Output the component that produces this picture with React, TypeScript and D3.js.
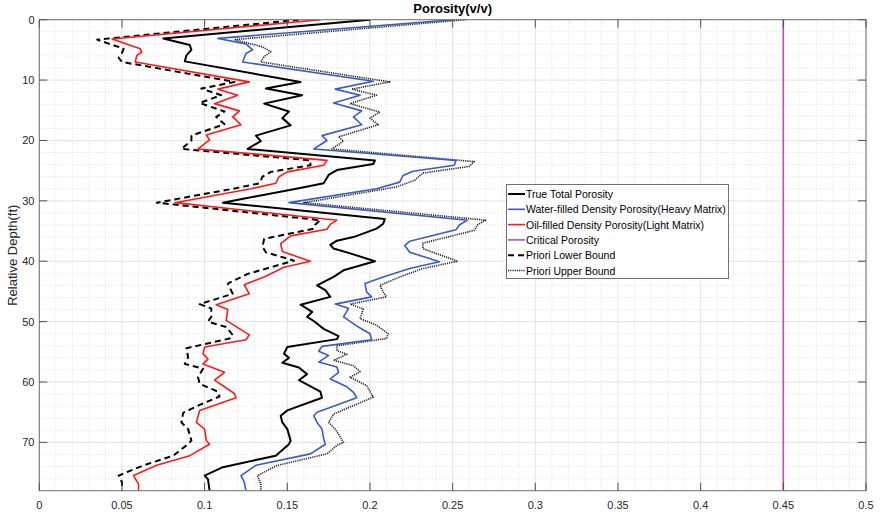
import * as d3 from "d3"

// [depth (ft), porosity (v/v)]
const trueTotal: [number, number][] = [
  [0, 0.2], [3.1, 0.075], [4.2, 0.091], [5.0, 0.092], [5.9, 0.089], [6.9, 0.088],
  [10.3, 0.158], [11.4, 0.137], [12.5, 0.159], [13.9, 0.136], [15.2, 0.151], [16.3, 0.147],
  [17.5, 0.152], [19.2, 0.131], [20.1, 0.134], [21.4, 0.126], [23.3, 0.203], [23.9, 0.202],
  [24.9, 0.18], [25.7, 0.175], [27.1, 0.172], [27.9, 0.157], [30.3, 0.111], [33.0, 0.209],
  [33.8, 0.208], [34.6, 0.204], [36.0, 0.19], [36.6, 0.18], [37.3, 0.176], [37.9, 0.178],
  [38.7, 0.188], [40.0, 0.203], [41.5, 0.184], [42.6, 0.178], [44.0, 0.168], [44.8, 0.173],
  [45.9, 0.176], [47.2, 0.158], [48.4, 0.165], [49.2, 0.162], [49.9, 0.166], [51.2, 0.172],
  [52.4, 0.181], [52.9, 0.18], [54.2, 0.15], [55.3, 0.148], [56.0, 0.151], [56.8, 0.147],
  [57.6, 0.157], [58.7, 0.162], [59.7, 0.157], [61.6, 0.17], [62.6, 0.171], [64.7, 0.15],
  [65.6, 0.146], [66.7, 0.147], [67.8, 0.15], [69.7, 0.152], [70.3, 0.151], [72.2, 0.143],
  [74.1, 0.111], [75.5, 0.1], [76.1, 0.102], [78, 0.103],
]

const waterFilled: [number, number][] = [
  [0, 0.251], [3.1, 0.108], [4.0, 0.125], [5.0, 0.129], [5.6, 0.125], [7.0, 0.123],
  [10.2, 0.202], [11.5, 0.179], [12.5, 0.194], [13.8, 0.178], [15.1, 0.195], [16.1, 0.19],
  [17.4, 0.195], [19.2, 0.171], [20.0, 0.174], [21.4, 0.166], [23.3, 0.252], [24.1, 0.251],
  [25.1, 0.226], [25.8, 0.22], [26.9, 0.218], [28.0, 0.204], [30.3, 0.151], [33.2, 0.259],
  [34.0, 0.254], [34.8, 0.252], [36.7, 0.224], [37.4, 0.221], [38.5, 0.224], [40.1, 0.242],
  [41.2, 0.224], [42.6, 0.208], [43.7, 0.197], [45.1, 0.198], [45.9, 0.201], [47.1, 0.179],
  [47.8, 0.187], [49.2, 0.184], [50.9, 0.193], [52.0, 0.2], [53.0, 0.201], [54.1, 0.171],
  [54.9, 0.169], [55.6, 0.175], [56.7, 0.169], [57.5, 0.18], [58.4, 0.181], [59.5, 0.176],
  [60.8, 0.186], [61.7, 0.19], [62.6, 0.192], [65.0, 0.168], [65.6, 0.166], [66.7, 0.168],
  [67.8, 0.171], [69.4, 0.172], [70.3, 0.173], [71.9, 0.164], [73.8, 0.131], [75.5, 0.122],
  [76.6, 0.124], [78, 0.125],
]

const oilFilled: [number, number][] = [
  [0, 0.17], [3.2, 0.044], [4.8, 0.061], [5.4, 0.062], [5.9, 0.059], [7.0, 0.058],
  [10.3, 0.127], [11.5, 0.108], [12.5, 0.12], [13.9, 0.106], [15.1, 0.121], [16.1, 0.117],
  [17.4, 0.122], [19.1, 0.101], [19.9, 0.103], [21.4, 0.096], [23.3, 0.174], [24.1, 0.172],
  [25.2, 0.15], [26.0, 0.145], [27.1, 0.143], [28.0, 0.128], [30.3, 0.082], [33.2, 0.18],
  [33.9, 0.176], [34.7, 0.174], [35.8, 0.152], [37.1, 0.146], [38.4, 0.147], [40.0, 0.164],
  [41.0, 0.148], [42.6, 0.136], [43.9, 0.124], [45.4, 0.127], [47.2, 0.107], [48.0, 0.114],
  [49.8, 0.113], [51.0, 0.12], [52.2, 0.127], [53.0, 0.125], [54.2, 0.1], [55.3, 0.099],
  [56.2, 0.102], [57.0, 0.099], [58.4, 0.112], [59.7, 0.106], [61.9, 0.118], [62.6, 0.119],
  [64.7, 0.097], [66.7, 0.095], [67.8, 0.1], [69.7, 0.101], [70.3, 0.103], [72.2, 0.091],
  [73.8, 0.071], [75.5, 0.057], [76.9, 0.06], [78, 0.06],
]

const lowerBound: [number, number][] = [
  [0, 0.157], [3.3, 0.035], [4.8, 0.051], [5.5, 0.05], [6.3, 0.048], [7.0, 0.05],
  [10.3, 0.118], [11.4, 0.098], [12.5, 0.11], [13.8, 0.097], [15.2, 0.112], [16.1, 0.107],
  [17.3, 0.112], [19.2, 0.092], [20.0, 0.092], [21.4, 0.086], [23.3, 0.164], [24.1, 0.164],
  [25.2, 0.14], [26.0, 0.135], [27.1, 0.133], [28.0, 0.117], [30.3, 0.071], [33.2, 0.17],
  [33.9, 0.167], [34.6, 0.166], [36.3, 0.136], [37.6, 0.135], [38.5, 0.137], [39.9, 0.154],
  [41.0, 0.14], [42.1, 0.126], [43.7, 0.114], [45.4, 0.117], [47.1, 0.097], [47.8, 0.104],
  [49.2, 0.104], [50.0, 0.102], [50.9, 0.113], [52.2, 0.117], [52.8, 0.115], [54.4, 0.089],
  [55.9, 0.09], [57.0, 0.088], [57.8, 0.099], [59.2, 0.096], [60.3, 0.097], [61.6, 0.108],
  [62.4, 0.109], [63.8, 0.097], [65.1, 0.087], [66.7, 0.086], [67.8, 0.09], [69.7, 0.092],
  [70.5, 0.089], [72.2, 0.081], [73.8, 0.063], [75.5, 0.048], [76.6, 0.05], [78, 0.05],
]

const upperBound: [number, number][] = [
  [0, 0.258], [3.3, 0.118], [4.5, 0.135], [5.3, 0.14], [6.1, 0.136], [7.0, 0.134],
  [10.3, 0.212], [11.5, 0.189], [12.5, 0.204], [13.9, 0.188], [15.3, 0.206], [16.3, 0.2],
  [17.4, 0.205], [19.4, 0.181], [20.1, 0.184], [21.4, 0.177], [23.5, 0.263], [24.3, 0.26],
  [25.4, 0.232], [26.6, 0.227], [27.7, 0.216], [30.3, 0.16], [33.2, 0.27], [34.0, 0.265],
  [34.9, 0.263], [37.0, 0.232], [37.9, 0.232], [40.0, 0.253], [41.2, 0.232], [42.6, 0.218],
  [44.0, 0.206], [45.1, 0.208], [45.9, 0.21], [47.1, 0.188], [47.9, 0.196], [49.5, 0.194],
  [50.6, 0.204], [52.0, 0.211], [52.8, 0.21], [54.0, 0.18], [54.8, 0.18], [55.4, 0.186],
  [56.4, 0.178], [57.3, 0.19], [58.3, 0.194], [59.2, 0.188], [60.6, 0.198], [62.5, 0.202],
  [65.3, 0.178], [66.7, 0.175], [67.8, 0.179], [70.0, 0.184], [70.5, 0.18], [71.9, 0.174],
  [73.8, 0.144], [75.5, 0.132], [76.9, 0.134], [78, 0.134],
]

const criticalPorosity = 0.45

const xTicks = [0, 0.05, 0.1, 0.15, 0.2, 0.25, 0.3, 0.35, 0.4, 0.45, 0.5]
const yTicks = [0, 10, 20, 30, 40, 50, 60, 70]

const legendLabels = [
  "True Total Porosity",
  "Water-filled Density Porosity(Heavy Matrix)",
  "Oil-filled Density Porosity(Light Matrix)",
  "Critical Porosity",
  "Priori Lower Bound",
  "Priori Upper Bound",
]

const FONT = "'Liberation Sans', Arial, Helvetica, sans-serif"

const styles = [
  { color: "#000000", width: 2, dash: "" },
  { color: "#3a5cc0", width: 1.6, dash: "" },
  { color: "#ff1a1a", width: 1.6, dash: "" },
  { color: "#bd4bb8", width: 1.6, dash: "" },
  { color: "#000000", width: 2, dash: "6,4" },
  { color: "#222222", width: 1.6, dash: "1.2,1" },
]

export default function App() {
  const left = 39.3
  const right = 866
  const top = 19.7
  const bottom = 490.7

  const x = d3.scaleLinear().domain([0, 0.5]).range([left, right])
  const y = d3.scaleLinear().domain([0, 78]).range([top, bottom])

  const line = d3
    .line<[number, number]>()
    .x((d) => x(d[1]))
    .y((d) => y(d[0]))
    .curve(d3.curveLinear)

  const xMinor = d3.range(0, 0.5001, 0.01).filter((v) => Math.abs(v / 0.05 - Math.round(v / 0.05)) > 1e-6)
  const yMinor = d3.range(0, 78.01, 2).filter((v) => v % 10 !== 0)

  const series = [trueTotal, waterFilled, oilFilled, null, lowerBound, upperBound]

  const legX = 506.5
  const legY = 184.5
  const legW = 222
  const legH = 94

  return (
    <div style={{ position: "absolute", left: 0, top: 0 }}>
      <svg width={880} height={512} style={{ display: "block", background: "#fff" }}>
        <defs>
          <clipPath id="plot">
            <rect x={left} y={top} width={right - left} height={bottom - top} />
          </clipPath>
        </defs>

        {/* minor grid */}
        {xMinor.map((v) => (
          <line key={"xm" + v} x1={x(v)} x2={x(v)} y1={top} y2={bottom}
            stroke="#d4d4d4" strokeWidth={0.8} strokeDasharray="1,2" />
        ))}
        {yMinor.map((v) => (
          <line key={"ym" + v} x1={left} x2={right} y1={y(v)} y2={y(v)}
            stroke="#d4d4d4" strokeWidth={0.8} strokeDasharray="1,2" />
        ))}
        {/* major grid */}
        {xTicks.map((v) => (
          <line key={"xg" + v} x1={x(v)} x2={x(v)} y1={top} y2={bottom} stroke="#e2e2e2" strokeWidth={1} />
        ))}
        {yTicks.map((v) => (
          <line key={"yg" + v} x1={left} x2={right} y1={y(v)} y2={y(v)} stroke="#e2e2e2" strokeWidth={1} />
        ))}

        <g clipPath="url(#plot)" fill="none" strokeLinejoin="round">
          <line x1={x(criticalPorosity)} x2={x(criticalPorosity)} y1={y(0)} y2={y(78)}
            stroke={styles[3].color} strokeWidth={styles[3].width} />
          {[5, 4, 2, 1, 0].map((i) => (
            <path key={i} d={line(series[i] as [number, number][]) || ""}
              stroke={styles[i].color} strokeWidth={styles[i].width}
              strokeDasharray={styles[i].dash || undefined} />
          ))}
        </g>

        {/* axes box and ticks */}
        <rect x={left} y={top} width={right - left} height={bottom - top} fill="none" stroke="#707070" strokeWidth={1} />
        {xTicks.map((v) => (
          <g key={"xt" + v} stroke="#505050" strokeWidth={1}>
            <line x1={x(v)} x2={x(v)} y1={bottom} y2={bottom - 8} />
            <line x1={x(v)} x2={x(v)} y1={top} y2={top + 8} />
          </g>
        ))}
        {yTicks.map((v) => (
          <g key={"yt" + v} stroke="#505050" strokeWidth={1}>
            <line x1={left} x2={left + 8} y1={y(v)} y2={y(v)} />
            <line x1={right} x2={right - 8} y1={y(v)} y2={y(v)} />
          </g>
        ))}

        <g fontFamily={FONT} fontSize={11} fill="#262626">
          {xTicks.map((v) => (
            <text key={"xl" + v} x={x(v)} y={508.5} textAnchor="middle">{d3.format("~g")(v)}</text>
          ))}
          {yTicks.map((v) => (
            <text key={"yl" + v} x={34.5} y={y(v) + 4} textAnchor="end">{v}</text>
          ))}
        </g>

        <text x={(left + right) / 2} y={13} textAnchor="middle" fontFamily={FONT} fontSize={13}
          fontWeight="bold" fill="#000">Porosity(v/v)</text>
        <text transform={`translate(17,${(top + bottom) / 2}) rotate(-90)`} textAnchor="middle"
          fontFamily={FONT} fontSize={13} fill="#262626">Relative Depth(ft)</text>

        {/* legend */}
        <rect x={legX} y={legY} width={legW} height={legH} fill="#fff" stroke="#707070" strokeWidth={1} />
        {legendLabels.map((label, i) => {
          const ly = 194 + i * 15.3
          return (
            <g key={label}>
              <line x1={508} x2={525} y1={ly} y2={ly} stroke={styles[i].color} strokeWidth={styles[i].width}
                strokeDasharray={styles[i].dash || undefined} />
              <text x={526} y={ly + 4} fontFamily={FONT} fontSize={10.5} fill="#000">{label}</text>
            </g>
          )
        })}
      </svg>
    </div>
  )
}
